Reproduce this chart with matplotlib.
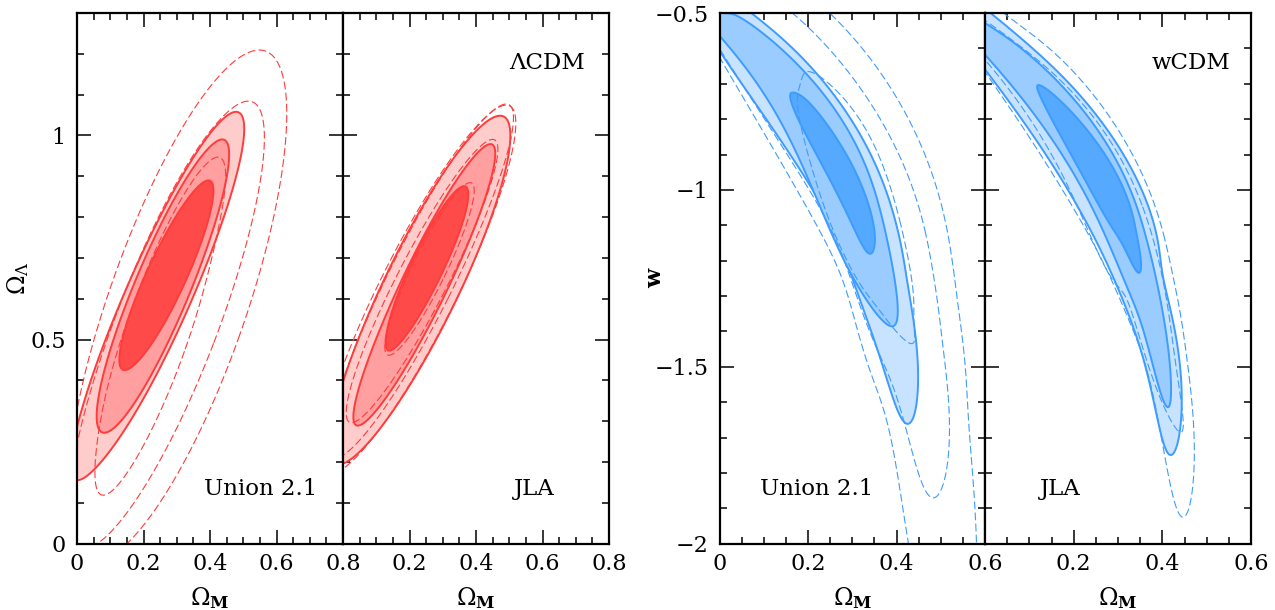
import numpy as np
import matplotlib
matplotlib.use('Agg')
import matplotlib.pyplot as plt
from matplotlib.path import Path
from matplotlib.patches import PathPatch

plt.rcParams['font.family'] = ['DejaVu Serif']
plt.rcParams['mathtext.fontset'] = 'dejavuserif'

# contours, (Omega_M, Omega_L) or (Omega_M, w)
# points outside the frame only say how a contour closes
lcdm_union_s3 = [(.449,1.063),(.475,1.04),(.487,.996),(.474,.898),(.449,.80),(.349,.584),(.269,.478),(.168,.339),
                 (.068,.168),(.023,.146),(.003,.156),(-.005,.20),(0,.274),(.118,.584),(.269,.808),(.409,1.033)]
lcdm_union_s2 = [(.419,.977),(.444,.939),(.429,.80),(.319,.576),(.249,.454),(.168,.347),(.078,.27),(.063,.27),
                 (.053,.307),(.068,.38),(.118,.502),(.209,.71),(.329,.906),(.389,.963)]
lcdm_union_s1 = [(.374,.878),(.394,.841),(.369,.71),(.289,.58),(.219,.494),(.153,.425),(.133,.421),(.125,.453),
                 (.148,.543),(.188,.613),(.269,.76),(.339,.865)]
lcdm_union_dash_d = [(0,.372),(.038,.502),(.088,.584),(.188,.79),(.289,.96),(.369,1.10),(.449,1.18),(.547,1.206),(.60,1.175),
                     (.623,1.11),(.625,1.004),(.60,.825),(.539,.596),(.469,.478),(.369,.307),(.249,.111),(.178,0),
                     (.10,-.07),(.023,0),(0,.0375),(-.02,.2)]
lcdm_union_dash_c = [(0,.217),(.008,.274),(.038,.405),(.128,.584),(.239,.776),(.329,.914),(.429,1.053),(.506,1.092),(.544,1.069),
                     (.559,1.004),(.554,.922),(.509,.727),(.459,.584),(.409,.502),(.299,.282),(.188,.127),(.078,0),(.02,-.03),(-.01,.09)]
lcdm_union_dash_b = [(.439,.937),(.474,.914),(.449,.841),(.419,.759),(.379,.67),(.368,.584),(.309,.445),(.249,.307),
                     (.148,.168),(.098,.127),(.068,.139),(.058,.176),(.058,.241),(.068,.307),(.113,.421),(.143,.551),
                     (.229,.71),(.369,.882)]

lcdm_jla_s3 = [(.475,1.073),(.487,1.053),(.472,.947),(.422,.759),(.332,.564),(.222,.409),(.001,.25),(-.03,.22),(-.03,.38),
               (.001,.425),(.101,.58),(.232,.80),(.352,.963),(.422,1.045)]
lcdm_jla_s2 = [(.417,.985),(.432,.963),(.417,.874),(.362,.702),(.292,.564),(.181,.433),(.061,.352),(.041,.352),(.034,.376),
               (.051,.425),(.121,.539),(.232,.71),(.332,.882),(.392,.967)]
lcdm_jla_s1 = [(.367,.883),(.372,.865),(.357,.792),(.302,.662),(.232,.564),(.141,.49),(.126,.486),(.123,.515),(.161,.596),
               (.242,.743),(.312,.841)]
lcdm_jla_dash_d = [(0,.44),(.10,.59),(.292,.906),(.412,1.045),(.492,1.084),(.514,1.065),(.512,1.012),(.472,.882),(.392,.686),
                   (.292,.515),(.242,.433),(.121,.303),(.001,.213),(-.05,.17),(-.08,.22),(-.06,.33)]
lcdm_jla_dash_c = [(.482,1.08),(.50,1.061),(.487,.98),(.432,.816),(.342,.62),(.222,.458),(.111,.335),(.001,.233),(-.04,.2),
                   (-.06,.25),(-.03,.35),(.1,.58),(.23,.80),(.35,.975),(.42,1.05)]
lcdm_jla_dash_b = [(.437,.996),(.454,.976),(.442,.906),(.392,.776),(.332,.645),(.222,.489),(.131,.392),(.041,.327),(.003,.299),
                   (.006,.368),(.071,.507),(.202,.694),(.322,.882),(.392,.976)]
lcdm_jla_dash_a = [(.377,.885),(.387,.865),(.362,.76),(.292,.63),(.192,.505),(.132,.46),(.122,.48),(.161,.59),(.242,.73),(.312,.835)]

wcdm_union_s3 = [(.069,-.5),(.122,-.558),(.174,-.615),(.235,-.69),(.302,-.803),(.362,-.963),(.40,-1.105),(.426,-1.265),
                 (.438,-1.373),(.444,-1.514),(.445,-1.627),(.434,-1.688),(.423,-1.674),(.392,-1.57),(.347,-1.41),(.321,-1.326),
                 (.257,-1.123),(.205,-.963),(.152,-.813),(.084,-.69),(0,-.634),(-.08,-.57),(-.1,-.47),(-.03,-.41),(.03,-.45)]
wcdm_union_s2 = [(.035,-.5),(.069,-.558),(.122,-.615),(.189,-.662),(.242,-.737),(.302,-.86),(.355,-1.02),(.385,-1.18),(.40,-1.326),
                 (.402,-1.373),(.396,-1.401),(.385,-1.396),(.355,-1.326),(.317,-1.293),(.25,-1.105),(.174,-.907),(.122,-.766),
                 (.054,-.638),(0,-.558),(-.06,-.50),(-.07,-.45),(-.03,-.43),(.005,-.46)]
wcdm_union_s1 = [(.171,-.725),(.197,-.747),(.242,-.813),(.302,-.935),(.34,-1.057),(.351,-1.142),(.344,-1.185),(.325,-1.156),
                 (.287,-1.067),(.227,-.916),(.174,-.794),(.163,-.747)]
wcdm_union_dash_d = [(.25,-.5),(.31,-.572),(.377,-.69),(.438,-.822),(.483,-.973),(.513,-1.123),(.535,-1.293),(.543,-1.354),
                     (.562,-1.608),(.571,-2.0),(.575,-2.3),(.54,-2.5),(.50,-2.4),(.438,-2.0),(.408,-1.854),(.362,-1.59),(.309,-1.373),
                     (.287,-1.312),(.22,-1.095),(.152,-.907),(.107,-.803),(.047,-.718),(0,-.667),(-.08,-.55),(-.05,-.42),(.12,-.40)]
wcdm_union_dash_c = [(.156,-.5),(.22,-.568),(.287,-.653),(.347,-.756),(.40,-.888),(.445,-1.048),(.483,-1.218),(.494,-1.326),
                     (.502,-1.42),(.513,-1.608),(.511,-1.815),(.498,-1.896),(.486,-1.891),(.46,-1.815),(.43,-1.70),(.377,-1.514),
                     (.332,-1.373),(.27,-1.17),(.212,-1.02),(.144,-.85),(.084,-.745),(.024,-.67),(-.05,-.55),(-.03,-.43),(.06,-.41)]
wcdm_union_dash_b = [(.186,-.685),(.212,-.669),(.257,-.711),(.332,-.831),(.385,-.992),(.419,-1.142),(.438,-1.326),
                     (.439,-1.42),(.43,-1.434),(.415,-1.425),(.392,-1.391),(.36,-1.33),(.31,-1.255),(.25,-1.08),(.20,-.92),(.18,-.75)]

wcdm_jla_s3 = [(.008,-.5),(.064,-.558),(.139,-.643),(.214,-.728),(.289,-.85),(.342,-.963),(.38,-1.114),(.402,-1.246),(.417,-1.326),
               (.432,-1.486),(.443,-1.608),(.447,-1.684),(.44,-1.731),(.429,-1.733),(.41,-1.712),(.38,-1.608),(.342,-1.42),(.32,-1.326),
               (.214,-1.067),(.139,-.897),(.064,-.75),(0,-.653),(-.07,-.58),(-.09,-.47),(-.05,-.43)]
wcdm_jla_s2 = [(0,-.53),(.064,-.587),(.139,-.662),(.207,-.747),(.282,-.888),(.335,-1.029),(.372,-1.17),(.395,-1.326),(.406,-1.373),
               (.417,-1.514),(.423,-1.59),(.416,-1.611),(.402,-1.599),(.372,-1.467),(.35,-1.354),(.335,-1.326),(.248,-1.067),
               (.177,-.907),(.102,-.766),(.034,-.652),(0,-.615),(-.06,-.56),(-.06,-.48)]
wcdm_jla_s1 = [(.12,-.709),(.162,-.737),(.229,-.831),(.289,-.935),(.327,-1.048),(.346,-1.152),(.352,-1.218),(.346,-1.236),(.335,-1.218),
               (.297,-1.123),(.237,-1.001),(.177,-.86),(.132,-.756)]
wcdm_jla_dash_d = [(.049,-.5),(.068,-.53),(.139,-.605),(.214,-.69),(.282,-.775),(.342,-.926),(.387,-1.076),(.417,-1.208),(.436,-1.316),
                   (.44,-1.335),(.459,-1.514),(.465,-1.702),(.461,-1.928),(.453,-1.968),(.444,-1.947),(.417,-1.806),(.387,-1.608),
                   (.342,-1.438),(.312,-1.326),(.286,-1.246),(.214,-1.09),(.139,-.925),(.064,-.765),(0,-.657),(-.07,-.58),(-.07,-.46),(-.02,-.44)]
wcdm_jla_dash_b = [(0,-.52),(.102,-.62),(.2,-.728),(.274,-.84),(.342,-1.01),(.395,-1.218),(.432,-1.514),(.443,-1.637),(.426,-1.684),
                   (.402,-1.627),(.372,-1.495),(.342,-1.373),(.297,-1.274),(.229,-1.105),(.139,-.879),(.064,-.728),(0,-.624),(-.06,-.56),(-.06,-.47)]

x_ticks_lcdm = [0, 0.2, 0.4, 0.6, 0.8]
y_ticks_lcdm = [0, 0.5, 1]
x_ticks_wcdm = [0, 0.2, 0.4, 0.6]
y_ticks_wcdm = [-2, -1.5, -1, -0.5]

REDS = ['#ffcccc', '#ff9f9f', '#ff4a4a']
RED_LINE = '#ff3b3b'
BLUES = ['#c8e3ff', '#9accff', '#55a9ff']
BLUE_LINE = '#3d9cff'


def smooth_contour(points, order, bend=False, ridge=0.008):
    # straighten the reading noise: fit r(theta) around the centre of the
    # contour, after squeezing it round, and come back to data coordinates.
    # bent contours are first unbent along a cubic x(y)
    p = np.array(points, dtype=float)
    order = min(order, (len(p) - 3) // 2)
    spine = np.polyfit(p[:, 1], p[:, 0], 3) if bend else [0.0]
    p[:, 0] -= np.polyval(spine, p[:, 1])
    c = p.mean(axis=0)
    vals, vecs = np.linalg.eigh(np.cov((p - c).T))
    to_round = vecs / np.sqrt(vals)
    q = (p - c) @ to_round
    th = np.arctan2(q[:, 1], q[:, 0])
    r = np.hypot(q[:, 0], q[:, 1])

    def design(t):
        cols = [np.ones_like(t)]
        for k in range(1, order + 1):
            cols += [np.cos(k * t), np.sin(k * t)]
        return np.column_stack(cols)

    A = design(th)
    # high harmonics cost more, so the gaps between points do not ring
    penalty = np.diag([0.0] + [ridge * k ** 4 for k in range(1, order + 1) for _ in (0, 1)])
    coef = np.linalg.solve(A.T @ A + penalty, A.T @ r)
    tt = np.linspace(-np.pi, np.pi, 721)
    rr = design(tt) @ coef
    out = np.column_stack([rr * np.cos(tt), rr * np.sin(tt)]) @ np.linalg.inv(to_round) + c
    out[:, 0] += np.polyval(spine, out[:, 1])
    return Path(out, closed=True)


def make_axes(fig, left, right, xlim, ylim, xmajor, xminor, ymajor, yminor, xshow, yshow, top=13, bottom=543.7):
    W, H = 1275., 610.
    ax = fig.add_axes([left / W, 1 - bottom / H, (right - left) / W, (bottom - top) / H])
    ax.set_xlim(xlim)
    ax.set_ylim(ylim)
    ax.set_xticks(xmajor)
    ax.set_xticks(xminor, minor=True)
    ax.set_yticks(ymajor)
    ax.set_yticks(yminor, minor=True)
    ax.set_xticklabels([str(t) if t in xshow else '' for t in xmajor])
    ax.set_yticklabels([str(t).replace('-', '\u2212') if yshow else '' for t in ymajor])
    ax.tick_params(which='major', direction='in', top=True, right=True, length=10, width=1.1, labelsize=16, pad=7)
    ax.tick_params(which='major', axis='y', pad=8)
    ax.tick_params(which='minor', direction='in', top=True, right=True, length=5, width=1.1)
    for sp in ax.spines.values():
        sp.set_linewidth(1.6)
        sp.set_zorder(10)
    return ax


def draw_panel(ax, fills, dashes, fill_colors, line_color, order, bend):
    for pts, col in zip(fills, fill_colors):
        ax.add_patch(PathPatch(smooth_contour(pts, order, bend), facecolor=col, edgecolor=line_color, lw=1.4, zorder=2))
    for pts in dashes:
        ax.add_patch(PathPatch(smooth_contour(pts, order, bend), fill=False, edgecolor=line_color, lw=0.8,
                               linestyle=(0, (7, 3)), zorder=3))


fig = plt.figure(figsize=(12.75, 6.1), dpi=100)

xm_l = np.arange(0, 0.81, 0.05)
ym_l = np.arange(0, 1.31, 0.1)
xm_w = np.arange(0, 0.61, 0.05)
ym_w = np.arange(-2, -0.49, 0.1)

ax1 = make_axes(fig, 77, 343, (0, 0.8), (0, 1.3), x_ticks_lcdm, xm_l, y_ticks_lcdm, ym_l, [0, 0.2, 0.4, 0.6, 0.8], True)
ax2 = make_axes(fig, 343, 609, (0, 0.8), (0, 1.3), x_ticks_lcdm, xm_l, y_ticks_lcdm, ym_l, [0.2, 0.4, 0.6, 0.8], False)
ax3 = make_axes(fig, 719.5, 985, (0, 0.6), (-2, -0.5), x_ticks_wcdm, xm_w, y_ticks_wcdm, ym_w, [0, 0.2, 0.4, 0.6], True)
ax4 = make_axes(fig, 985, 1251, (0, 0.6), (-2, -0.5), x_ticks_wcdm, xm_w, y_ticks_wcdm, ym_w, [0.2, 0.4, 0.6], False)

draw_panel(ax1, [lcdm_union_s3, lcdm_union_s2, lcdm_union_s1],
           [lcdm_union_dash_d, lcdm_union_dash_c, lcdm_union_dash_b], REDS, RED_LINE, 2, False)
draw_panel(ax2, [lcdm_jla_s3, lcdm_jla_s2, lcdm_jla_s1],
           [lcdm_jla_dash_d, lcdm_jla_dash_c, lcdm_jla_dash_b, lcdm_jla_dash_a], REDS, RED_LINE, 2, False)
draw_panel(ax3, [wcdm_union_s3, wcdm_union_s2, wcdm_union_s1],
           [wcdm_union_dash_d, wcdm_union_dash_c, wcdm_union_dash_b], BLUES, BLUE_LINE, 6, True)
draw_panel(ax4, [wcdm_jla_s3, wcdm_jla_s2, wcdm_jla_s1],
           [wcdm_jla_dash_d, wcdm_jla_dash_b], BLUES, BLUE_LINE, 6, True)

ax1.text(0.69, 0.104, 'Union 2.1', transform=ax1.transAxes, ha='center', va='center', fontsize=16.5)
ax2.text(0.72, 0.104, 'JLA', transform=ax2.transAxes, ha='center', va='center', fontsize=16.5)
ax2.text(0.767, 0.905, '\u039bCDM', transform=ax2.transAxes, ha='center', va='center', fontsize=16.5)
ax3.text(0.367, 0.104, 'Union 2.1', transform=ax3.transAxes, ha='center', va='center', fontsize=16.5)
ax4.text(0.282, 0.104, 'JLA', transform=ax4.transAxes, ha='center', va='center', fontsize=16.5)
ax4.text(0.775, 0.905, 'wCDM', transform=ax4.transAxes, ha='center', va='center', fontsize=16.5)

for ax in (ax1, ax2, ax3, ax4):
    ax.set_xlabel(r'$\Omega_{\mathbf{M}}$', fontsize=17, labelpad=7)
ax1.set_ylabel(r'$\Omega_{\Lambda}$', fontsize=17)
ax1.yaxis.set_label_coords(-0.173, 0.5)
ax3.set_ylabel('w', fontsize=16, fontweight='bold')
ax3.yaxis.set_label_coords(-0.2, 0.5)

fig.savefig('out.png', dpi=100, facecolor='white')
